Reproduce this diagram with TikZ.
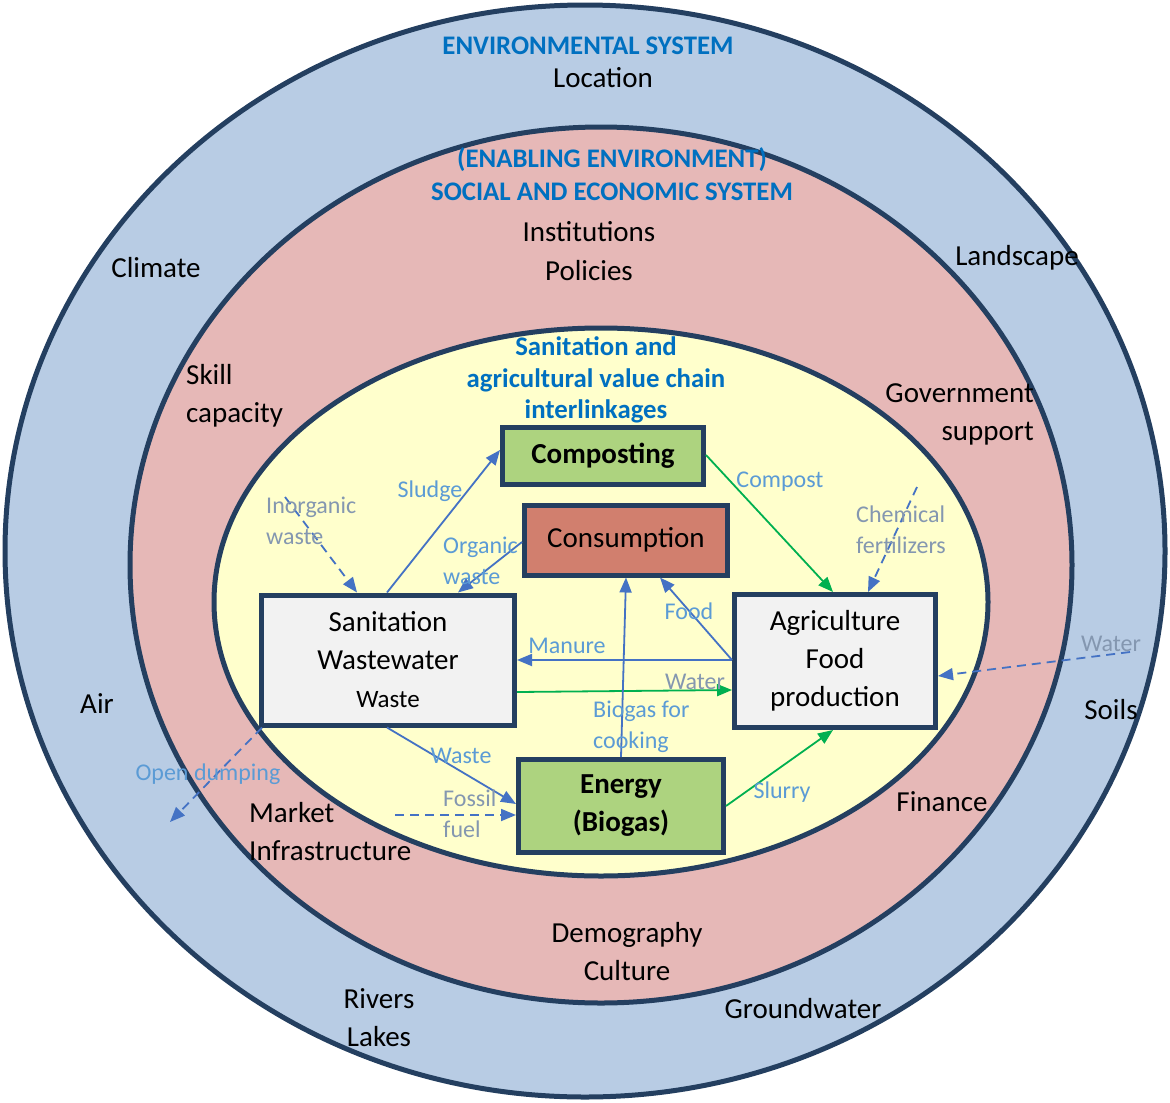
\documentclass[tikz,border=0pt]{standalone}
\usepackage{fontspec}
\setmainfont{Carlito}
\usepackage{xcolor}
\usetikzlibrary{arrows.meta,positioning}

\definecolor{navy}{HTML}{243F60}
\definecolor{envblue}{HTML}{B8CCE4}
\definecolor{socpink}{HTML}{E6B8B7}
\definecolor{chainyellow}{HTML}{FFFFCC}
\definecolor{boxgreen}{HTML}{ADD37F}
\definecolor{boxred}{HTML}{D17F6E}
\definecolor{boxgray}{HTML}{F2F2F2}
\definecolor{headblue}{HTML}{0070C0}
\definecolor{labelblue}{HTML}{5B9BD5}
\definecolor{labelgray}{HTML}{8497B0}
\definecolor{arrowblue}{HTML}{4472C4}
\definecolor{arrowgreen}{HTML}{00B050}

\begin{document}
\begin{tikzpicture}[x=1pt,y=-1pt,
  ring/.style={draw=navy,line width=5pt},
  box node/.style={draw=navy,line width=5pt,inner sep=0pt,align=center,
    font=\fontsize{29}{38}\selectfont},
  heading/.style={text=headblue,align=center,inner sep=0pt,
    font=\bfseries\fontsize{26.8}{33}\selectfont},
  sys label/.style={inner sep=0pt,font=\fontsize{29}{38}\selectfont},
  flow label/.style={text=labelblue,inner sep=0pt,font=\fontsize{24}{31}\selectfont},
  input label/.style={flow label,text=labelgray},
  flow/.style={draw=arrowblue,line width=1.8pt,-{Triangle[length=15pt,width=12pt]}},
  green flow/.style={flow,draw=arrowgreen},
  input flow/.style={flow,dash pattern=on 9pt off 6pt}]

  \useasboundingbox (0,0) rectangle (1170,1103);

  % the three systems
  \draw[ring,fill=envblue] (585,551) ellipse [x radius=580pt,y radius=546pt];
  \draw[ring,fill=socpink] (601,565) ellipse [x radius=471pt,y radius=438pt];
  \draw[ring,fill=chainyellow] (601,602) ellipse [x radius=387pt,y radius=274pt];

  \node[heading] (envhead) at (588,46) {ENVIRONMENTAL SYSTEM};
  \node[heading] (sochead) at (612,174) {(ENABLING ENVIRONMENT)\\SOCIAL AND ECONOMIC SYSTEM};
  \node[heading,font=\bfseries\fontsize{26.8}{31.5}\selectfont] (chainhead) at (596,380)
    {Sanitation and\\agricultural value chain\\interlinkages};

  % environmental factors
  \node[sys label] (location) at (603,78) {Location};
  \node[sys label] (climate) at (156,268) {Climate};
  \node[sys label] (landscape) at (1017,258) {Landscape};
  \node[sys label] (air) at (97,704) {Air};
  \node[sys label] (soils) at (1111,710) {Soils};
  \node[sys label,align=center] (rivers) at (379,1018) {Rivers\\Lakes};
  \node[sys label] (groundwater) at (803,1009) {Groundwater};

  % social and economic factors
  \node[sys label,align=center,font=\fontsize{29}{39}\selectfont] (institutions) at (589,251) {Institutions\\Policies};
  \node[sys label,align=left,anchor=west] (skill) at (186,396) {Skill\\capacity};
  \node[sys label,align=right,anchor=east] (government) at (1034,414) {Government\\support};
  \node[sys label] (finance) at (942,802) {Finance};
  \node[sys label,align=left,anchor=west] (market) at (249,832) {Market\\Infrastructure};
  \node[sys label,align=center] (demography) at (627,952) {Demography\\Culture};

  % value chain
  \node[box node,fill=boxgreen,minimum width=201pt,minimum height=57pt,font=\bfseries\fontsize{29}{38}\selectfont]
    (comp) at (603,456) {Composting};
  \node[box node,fill=boxred,minimum width=203pt,minimum height=70pt] (cons) at (626,540) {Consumption};
  \node[box node,fill=boxgray,minimum width=253pt,minimum height=130pt] (sanit) at (388,660)
    {Sanitation\\Wastewater\\{\fontsize{25}{38}\selectfont Waste}};
  \node[box node,fill=boxgray,minimum width=201pt,minimum height=133pt] (agri) at (835,661)
    {Agriculture\\Food\\production};
  \node[box node,fill=boxgreen,minimum width=205pt,minimum height=93pt,font=\bfseries\fontsize{29}{38}\selectfont]
    (ener) at (621,806) {Energy\\(Biogas)};

  \coordinate (inorg) at (285,497);
  \coordinate (chem) at (917,487);
  \coordinate (water) at (1130,652);
  \coordinate (fossil) at (395,815);
  \coordinate (dump) at (170,822);

  \draw[input flow] (inorg) -- ([xshift=-31pt]sanit.north);
  \draw[flow] ([xshift=-1pt]sanit.north) -- ([yshift=6pt]comp.west);
  \draw[flow] ([yshift=-2pt]cons.west) -- ([xshift=70pt]sanit.north);
  \draw[green flow] ([yshift=1pt]comp.east) -- ([xshift=-2pt]agri.north);
  \draw[input flow] (chem) -- ([xshift=33pt]agri.north);
  \draw[input flow] (water) -- ([yshift=-15pt]agri.east);
  \draw[flow] ([yshift=1pt]agri.west) -- ([xshift=34pt]cons.south);
  \draw[flow] ([yshift=1pt]agri.west) -- ([yshift=1pt]agri.west -| sanit.east);
  \draw[green flow] ([yshift=-32pt]sanit.east) -- ([yshift=-29pt]agri.west);
  \draw[flow] (ener.north) -- (cons.south);
  \draw[flow] ([xshift=-1pt]sanit.south) -- ([yshift=2pt]ener.west);
  \draw[input flow] (fossil) -- (fossil -| ener.west);
  \draw[input flow] ([xshift=3pt]sanit.south west) -- (dump);
  \draw[green flow] (ener.east) -- ([xshift=-2pt]agri.south);

  \node[input label,align=left,anchor=west] (inorglabel) at (266,521) {Inorganic\\waste};
  \node[flow label] (sludge) at (430,491) {Sludge};
  \node[flow label,align=left,anchor=west] (organic) at (443,561) {Organic\\waste};
  \node[flow label] (compost) at (780,482) {Compost};
  \node[input label,align=left,anchor=west] (chemlabel) at (856,530) {Chemical\\fertilizers};
  \node[input label] (waterlabel) at (1111,644) {Water};
  \node[flow label] (food) at (689,611) {Food};
  \node[flow label] (manure) at (567,646) {Manure};
  \node[input label] (water2) at (695,682) {Water};
  \node[flow label,align=left,anchor=west] (biogas) at (593,727) {Biogas for\\cooking};
  \node[flow label] (waste) at (461,756) {Waste};
  \node[input label,align=left,anchor=west] (fossillabel) at (443,814) {Fossil\\fuel};
  \node[flow label] (dumping) at (208,774) {Open dumping};
  \node[flow label] (slurry) at (782,792) {Slurry};
\end{tikzpicture}
\end{document}
